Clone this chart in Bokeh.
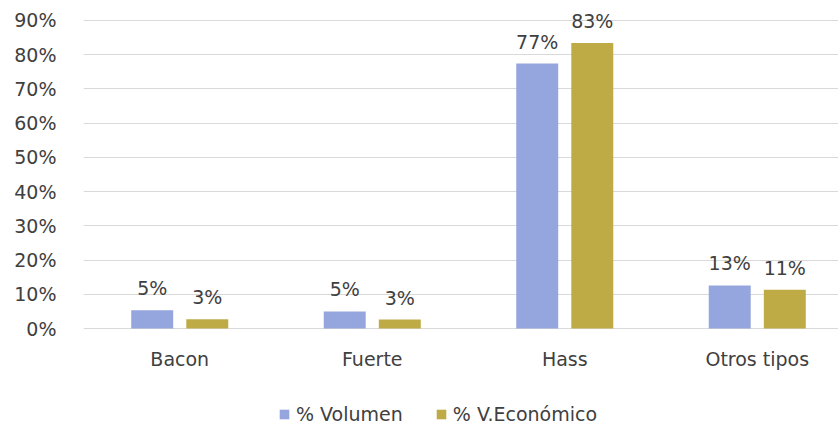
import numpy as np
from bokeh.plotting import figure
from bokeh.core.properties import value
from bokeh.models import (ColumnDataSource, Range1d, FixedTicker, PrintfTickFormatter,
                          Legend, LegendItem, LabelSet)
from bokeh.embed import file_html
from bokeh.resources import INLINE

categories = ["Bacon", "Fuerte", "Hass", "Otros tipos"]
volumen = [5.3, 5.0, 77.4, 12.6]
economico = [2.7, 2.6, 83.4, 11.3]
y_ticks = [0, 10, 20, 30, 40, 50, 60, 70, 80, 90]
series_names = ["% Volumen", "% V.Económico"]

FONT = "DejaVu Sans"
FS = "19px"
TXT = "#404040"
BLUE = "#95A5DE"
OLIVE = "#BEAB46"

idx = np.arange(len(categories)) + 0.5
off = 0.143
bw = 0.218

src = ColumnDataSource(dict(
    xc=idx, base=np.zeros(len(categories)), cat=categories,
    xv=idx - off, xe=idx + off,
    vol=volumen, eco=economico,
    vol_lbl=[f"{round(v)}%" for v in volumen],
    eco_lbl=[f"{round(v)}%" for v in economico],
))

p = figure(width=838, height=424, output_backend="svg", toolbar_location=None,
           x_range=Range1d(0, 3.922), y_range=Range1d(-28.05, 95.84),
           x_axis_location=None,
           min_border_left=83, min_border_right=0, min_border_top=0,
           min_border_bottom=0)
p.outline_line_color = None
p.background_fill_color = "white"
p.border_fill_color = "white"

rv = p.vbar(x="xv", top="vol", width=bw, source=src, fill_color=BLUE, line_color=None)
re = p.vbar(x="xe", top="eco", width=bw, source=src, fill_color=OLIVE, line_color=None)

for col, xcol in (("vol", "xv"), ("eco", "xe")):
    p.add_layout(LabelSet(x=xcol, y=col, text=col + "_lbl", source=src,
                          text_align="center", text_baseline="alphabetic",
                          y_offset=15, text_font=value(FONT), text_font_size=FS,
                          text_color=TXT))

# category labels under the bars
p.add_layout(LabelSet(x="xc", y="base", text="cat", source=src,
                      text_align="center", text_baseline="middle",
                      y_offset=-30, text_font=value(FONT), text_font_size=FS,
                      text_color=TXT))

p.xgrid.visible = False
p.ygrid.ticker = FixedTicker(ticks=y_ticks)
p.ygrid.grid_line_color = "#D9D9D9"
p.ygrid.grid_line_width = 1

p.yaxis.ticker = FixedTicker(ticks=y_ticks)
p.yaxis.formatter = PrintfTickFormatter(format="%d%%")
p.yaxis.axis_line_color = None
p.yaxis.major_tick_line_color = None
p.yaxis.minor_tick_line_color = None
p.yaxis.major_label_standoff = 21
p.yaxis.major_label_text_font = FONT
p.yaxis.major_label_text_font_size = FS
p.yaxis.major_label_text_color = TXT

legend = Legend(items=[LegendItem(label=series_names[0], renderers=[rv]),
                       LegendItem(label=series_names[1], renderers=[re])],
                orientation="horizontal", location=(195, -1),
                border_line_color=None, background_fill_alpha=0,
                label_text_font=FONT, label_text_font_size=FS,
                label_text_color=TXT, glyph_width=12, glyph_height=12,
                spacing=32, label_standoff=6, margin=0, padding=4)
p.add_layout(legend)

open("out.html", "w").write(file_html(p, INLINE))
